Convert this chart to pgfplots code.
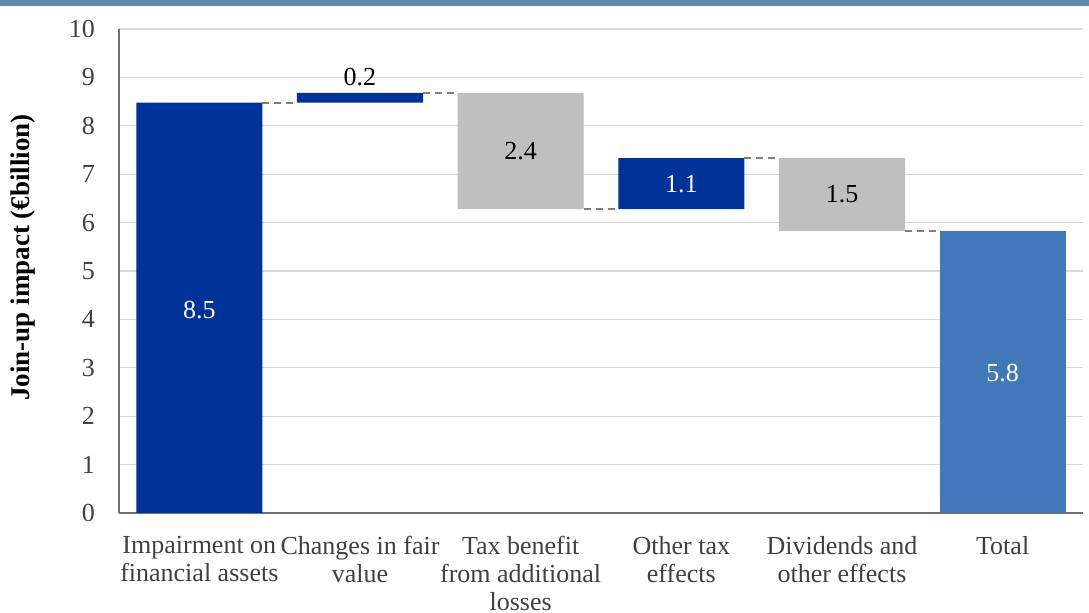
\documentclass[border=0pt]{standalone}
\usepackage{pgfplots}
\pgfplotsset{compat=1.18}
\usepackage{fontspec}
\setmainfont{Liberation Serif}

\definecolor{darkbar}{HTML}{003399}
\definecolor{graybar}{HTML}{BFBFBF}
\definecolor{totalbar}{HTML}{4178B9}
\definecolor{stripc}{HTML}{6089AF}
\definecolor{gridc}{HTML}{D9D9D9}
\definecolor{axisc}{HTML}{6F6F6F}
\definecolor{labelc}{HTML}{404040}
\definecolor{connc}{HTML}{7F7F7F}

\pgfplotsset{
  wfgeom/.style={
    at={(0,0)}, anchor=south west,
    scale only axis, width=482pt, height=242pt,
    xmin=-0.5, xmax=5.5, ymin=0, ymax=10,
  },
}

\begin{document}
\begin{tikzpicture}[font=\fontsize{13pt}{14pt}\selectfont]
  \useasboundingbox (-59.5pt,-50pt) rectangle (485pt,256.5pt);
  \fill[stripc] (-59.5pt,253.5pt) rectangle (485pt,256.5pt);

  \begin{axis}[
      wfgeom,
      ybar stacked,
      bar width=0.785,
      axis x line*=bottom,
      axis y line*=left,
      axis line style={axisc, line width=0.9pt},
      ymajorgrids,
      grid style={gridc, line width=0.6pt},
      major tick length=0pt,
      ytick={0,1,...,10},
      xtick={0,1,2,3,4,5},
      xticklabels={{Impairment on\\financial assets},
                   {Changes in fair\\value},
                   {Tax benefit\\from additional\\losses},
                   {Other tax\\effects},
                   {Dividends and\\other effects},
                   {Total}},
      xticklabel style={align=center, text=labelc, yshift=-8pt},
      yticklabel style={text=labelc, xshift=-8.5pt},
      /pgf/number format/assume math mode=true,
      ylabel={\fontsize{13.5pt}{15pt}\selectfont\bfseries Join-up impact (€billion)},
      every axis y label/.style={at={(axis description cs:-0.1,0.528)},
                                 rotate=90, anchor=center},
    ]
    % invisible base of the floating bars
    \addplot[draw=none, fill=none] coordinates {(0,0) (1,8.48) (2,6.28) (3,6.28) (4,5.83) (5,0)};
    % increases
    \addplot[draw=none, fill=darkbar] coordinates {(0,8.48) (1,0.2) (2,0) (3,1.05) (4,0) (5,0)};
    % decreases
    \addplot[draw=none, fill=graybar] coordinates {(0,0) (1,0) (2,2.4) (3,0) (4,1.5) (5,0)};
    % total
    \addplot[draw=none, fill=totalbar] coordinates {(0,0) (1,0) (2,0) (3,0) (4,0) (5,5.83)};
  \end{axis}

  % connectors and value labels, on top of the bars
  \begin{axis}[wfgeom, hide axis]
    \addplot[connc, line width=1pt, dash pattern=on 3.5pt off 2.5pt, no markers]
      coordinates {(0.3925,8.48) (0.6075,8.48)};
    \addplot[connc, line width=1pt, dash pattern=on 3.5pt off 2.5pt, no markers]
      coordinates {(1.3925,8.68) (1.6075,8.68)};
    \addplot[connc, line width=1pt, dash pattern=on 3.5pt off 2.5pt, no markers]
      coordinates {(2.3925,6.28) (2.6075,6.28)};
    \addplot[connc, line width=1pt, dash pattern=on 3.5pt off 2.5pt, no markers]
      coordinates {(3.3925,7.33) (3.6075,7.33)};
    \addplot[connc, line width=1pt, dash pattern=on 3.5pt off 2.5pt, no markers]
      coordinates {(4.3925,5.83) (4.6075,5.83)};

    \node[text=white] at (axis cs:0,4.2) {8.5};
    \node[text=black] at (axis cs:1,9.0) {0.2};
    \node[text=black] at (axis cs:2,7.48) {2.4};
    \node[text=white] at (axis cs:3,6.8) {1.1};
    \node[text=black] at (axis cs:4,6.58) {1.5};
    \node[text=white] at (axis cs:5,2.9) {5.8};
  \end{axis}
\end{tikzpicture}
\end{document}
